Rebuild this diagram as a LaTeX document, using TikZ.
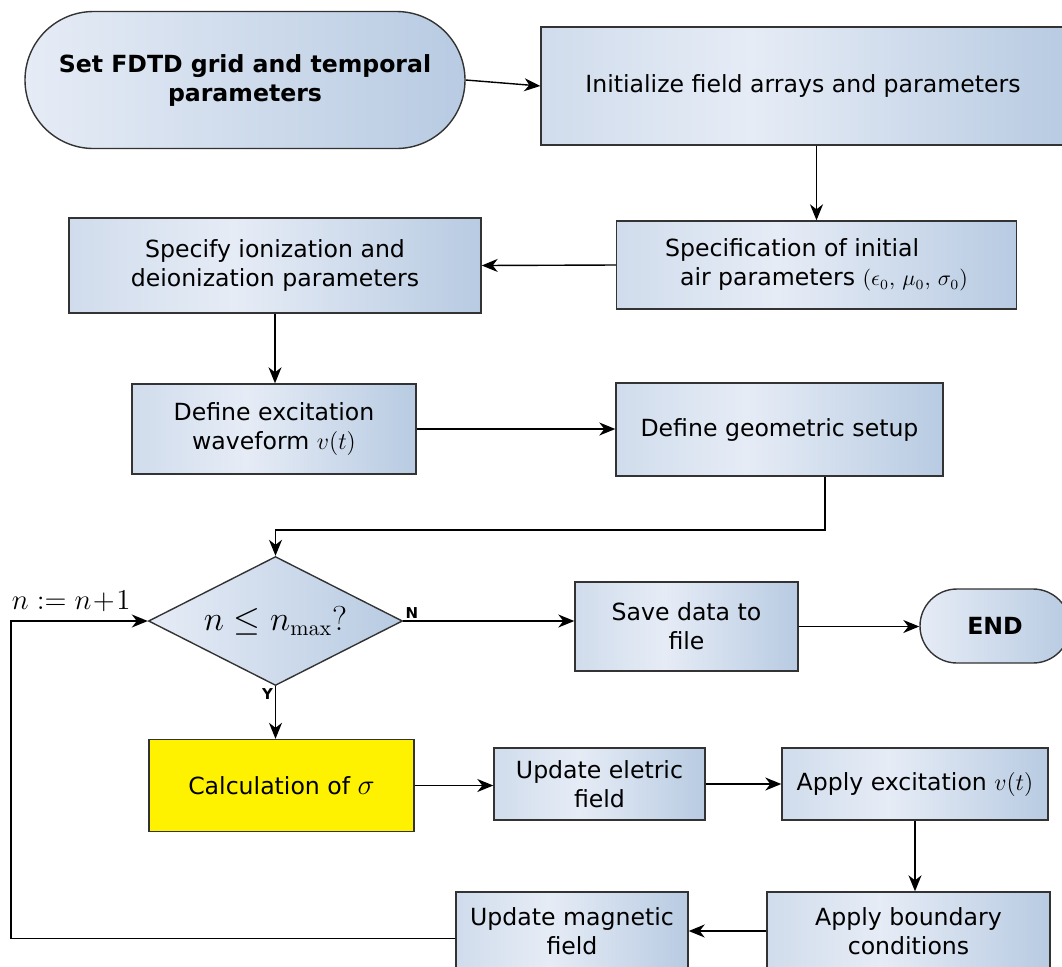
\documentclass[tikz,border=0pt]{standalone}
\usepackage[no-math]{fontspec}
\setmainfont{DejaVu Sans}
\usetikzlibrary{shapes.geometric,shapes.misc,arrows.meta}
\definecolor{boxl}{HTML}{D0DCEC}
\definecolor{boxm}{HTML}{E6ECF6}
\definecolor{boxr}{HTML}{B8CBE2}
\definecolor{edge}{HTML}{333333}
\pgfdeclarehorizontalshading{boxfill}{100bp}{color(0bp)=(boxl);color(25bp)=(boxl);color(45bp)=(boxm);color(75bp)=(boxr);color(100bp)=(boxr)}
\begin{document}
\begin{tikzpicture}[x=0.5pt,y=-0.5pt,
  every node/.style={font=\fontsize{11.8}{14.5}\selectfont},
  blk/.style={draw=edge,line width=0.7pt,align=center,inner sep=0pt},
  box/.style={blk,shading=boxfill},
  hot/.style={blk,fill=yellow},
  term/.style={blk,rounded rectangle,left color=boxm,right color=boxr,font=\fontsize{11.8}{14.5}\selectfont\bfseries},
  test/.style={blk,diamond,aspect=2,left color=boxm,right color=boxr,font=\fontsize{16}{19}\selectfont},
  flag/.style={font=\bfseries\fontsize{7.5}{9}\selectfont,inner sep=1pt},
  arr/.style={-{Stealth[length=8pt,width=6.5pt,inset=2.5pt]},line width=0.7pt}]
\useasboundingbox(0,0)rectangle(1062,966);
% blocks
\node[term,minimum width=220pt,minimum height=68.5pt](start)at(245,80){Set FDTD grid and temporal\\parameters};
\node[box,minimum width=262pt,minimum height=59pt](init)at(803,86){Initialize field arrays and parameters};
\node[box,minimum width=200pt,minimum height=44pt,align=left](spec)at(816.5,265){Specification of initial\\\hspace{7.5pt}air parameters {\fontsize{10.5}{12}\selectfont$(\epsilon_0,\,\mu_0,\,\sigma_0)$}};
\node[box,minimum width=206pt,minimum height=47.5pt](ion)at(275,265.5){Specify ionization and\\deionization parameters};
\node[box,minimum width=142pt,minimum height=45pt](wave)at(274,429){Define excitation\\waveform $v(t)$};
\node[box,minimum width=163.5pt,minimum height=46.5pt](geom)at(779.5,429.5){Define geometric setup};
\node[test,minimum width=127pt,minimum height=64.5pt](cond)at(275.5,621){$n\le n_{\max}?$};
\node[box,minimum width=111.5pt,minimum height=44.5pt](save)at(686.5,626.5){Save data to\\file};
\node[term,minimum width=75pt,minimum height=37pt](stop)at(995,626){END};
\node[hot,minimum width=132.5pt,minimum height=46pt](sig)at(281.5,785.5){Calculation of {\fontsize{14}{16}\selectfont$\sigma$}};
\node[box,minimum width=105.5pt,minimum height=36pt](efield)at(599.5,784){Update eletric\\field};
\node[box,minimum width=133pt,minimum height=36pt](exc)at(915,784){Apply excitation $v(t)$};
\node[box,minimum width=141.5pt,minimum height=39pt](bc)at(908.5,931){Apply boundary\\conditions};
\node[box,minimum width=116pt,minimum height=39pt](hfield)at(572,931){Update magnetic\\field};
% labels
\node[font=\fontsize{13.6}{16}\selectfont,anchor=south east,inner sep=0pt](inc)at(131,612){$n:=n\!+\!1$};
\node[flag,anchor=south west](no)at(cond.east){N};
\node[flag,anchor=north east](yes)at(cond.south){Y};
% arrows
\coordinate(bend)at(500,530);
\coordinate(loop)at(11,700);
\draw[arr](start.east)--(init.west);
\draw[arr](spec.north|-init.south)--(spec.north);
\draw[arr](spec.west)--(ion.east);
\draw[arr](ion.south)--(ion.south|-wave.north);
\draw[arr](wave.east)--(wave.east-|geom.west);
\draw[arr]([xshift=22.75pt]geom.south)|-(bend)-|(cond.north);
\draw[arr](cond.east)--(cond.east-|save.west);
\draw[arr](save.east)--(save.east-|stop.west);
\draw[arr](cond.south)--(cond.south|-sig.north);
\draw[arr](sig.east)--(sig.east-|efield.west);
\draw[arr](efield.east)--(efield.east-|exc.west);
\draw[arr](exc.south)--(exc.south|-bc.north);
\draw[arr](bc.west)--(bc.west-|hfield.east);
\draw[arr]([yshift=-3.85pt]hfield.west)-|(loop)|-(cond.west);
\end{tikzpicture}
\end{document}
